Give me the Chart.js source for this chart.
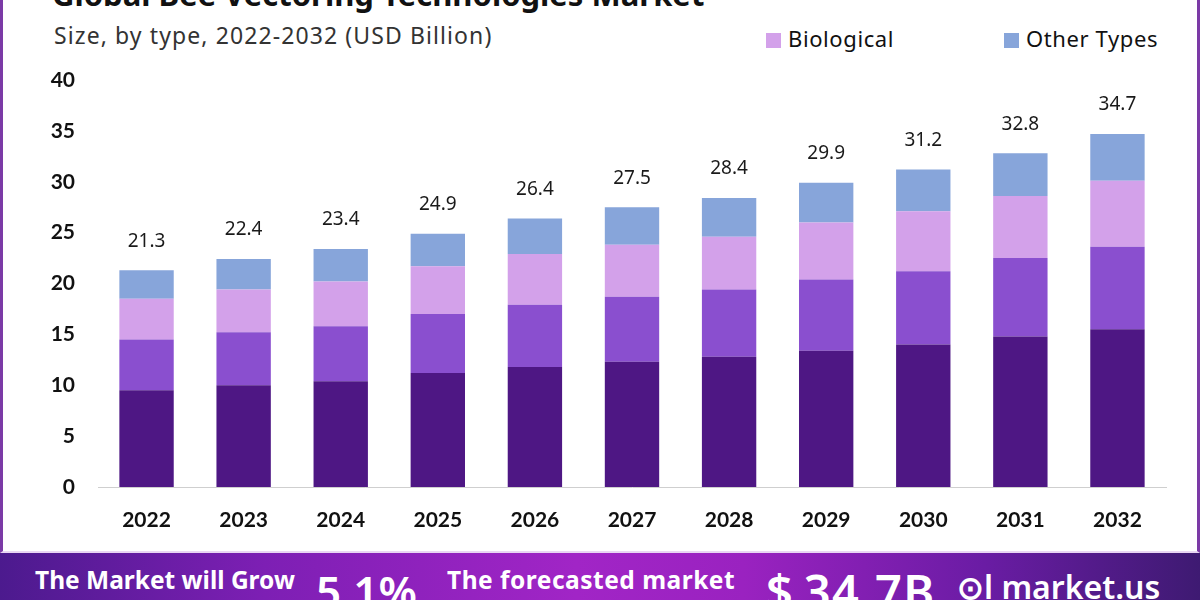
<!DOCTYPE html>
<html>
<head>
<meta charset="utf-8">
<script src="https://cdn.jsdelivr.net/npm/chart.js@4.4.0/dist/chart.umd.min.js"></script>
<style>
  html, body { margin: 0; padding: 0; }
  body { width: 1200px; height: 600px; position: relative; overflow: hidden; background: #fff; font-family: "Noto Sans", "Open Sans", sans-serif; }
  #card { position: absolute; left: 0; top: 0; width: 1194px; height: 551px; border-left: 3px solid #7b3aa6; border-right: 3px solid #7b3aa6; border-bottom: 2px solid #e9d6f3; }
  #title { position: absolute; left: 52px; top: -27px; font: 700 31px "Noto Sans", sans-serif; color: #111; white-space: nowrap; }
  #subtitle { position: absolute; left: 54px; top: 19px; font: 400 23px "Noto Sans", sans-serif; letter-spacing: 1.1px; color: #333; white-space: nowrap; }
  .leg { position: absolute; top: 23px; font: 400 22px "Noto Sans", sans-serif; letter-spacing: 0.6px; color: #111; white-space: nowrap; }
  .leg i { display: inline-block; width: 15px; height: 15px; margin-right: 7px; vertical-align: -1px; }
  #chartBox { position: absolute; left: 0; top: 0; width: 1200px; height: 553px; }
  #banner { position: absolute; left: 0; top: 553px; width: 1200px; height: 47px;
    background: linear-gradient(90deg, #4c1a8e 0%, #7d1fb4 22%, #a125c6 48%, #9a22c0 62%, #6a1ca4 82%, #3e1a72 100%); color: #fff; }
  #banner span { position: absolute; white-space: nowrap; font-family: "Noto Sans", sans-serif; font-weight: 700; }
</style>
</head>
<body>
<div id="card"></div>
<div id="title">Global Bee Vectoring Technologies Market</div>
<div id="subtitle">Size, by type, 2022-2032 (USD Billion)</div>
<div class="leg" style="left:766px"><i style="background:#d3a1ea"></i>Biological</div>
<div class="leg" style="left:1004px"><i style="background:#87a5da"></i>Other Types</div>
<div id="chartBox"><canvas id="chart" width="1200" height="553"></canvas></div>
<div id="banner">
  <span style="left:35px; top:10px; font-size:24.5px;">The Market will Grow</span>
  <span style="left:316px; top:8px; font-size:44px; font-weight:600;">5.1%</span>
  <span style="left:447px; top:10px; font-size:24.5px; letter-spacing:0.5px;">The forecasted market</span>
  <span style="left:766px; top:6px; font-size:47px; font-weight:600; letter-spacing:1.5px;">$&#x2009;34.7B</span>
  <span style="left:957px; top:12px; font-size:32px; font-weight:600;">&#x2299;l market.us</span>
</div>

<script>
// chart values
const years = ["2022", "2023", "2024", "2025", "2026", "2027", "2028", "2029", "2030", "2031", "2032"];
const darkSeg   = [9.5, 10.0, 10.4, 11.2, 11.8, 12.3, 12.8, 13.4, 14.0, 14.8, 15.5];
const mediumSeg = [5.0, 5.2, 5.4, 5.8, 6.1, 6.4, 6.6, 7.0, 7.2, 7.7, 8.1];
const biological = [4.0, 4.2, 4.4, 4.7, 5.0, 5.1, 5.2, 5.6, 5.9, 6.1, 6.5];
const otherTypes = [2.8, 3.0, 3.2, 3.2, 3.5, 3.7, 3.8, 3.9, 4.1, 4.2, 4.6];
const totals = ["21.3", "22.4", "23.4", "24.9", "26.4", "27.5", "28.4", "29.9", "31.2", "32.8", "34.7"];
const yTicks = [0, 5, 10, 15, 20, 25, 30, 35, 40];

// total labels above each stacked bar
const totalLabels = {
  id: "totalLabels",
  afterDatasetsDraw(chart) {
    const ctx = chart.ctx;
    const meta = chart.getDatasetMeta(chart.data.datasets.length - 1);
    ctx.save();
    ctx.fillStyle = "#1a1a1a";
    ctx.font = "400 19px 'Noto Sans', sans-serif";
    ctx.textAlign = "center";
    ctx.textBaseline = "middle";
    meta.data.forEach((bar, i) => {
      ctx.fillText(totals[i], bar.x, bar.y - 29);
    });
    ctx.restore();
  }
};

const ctx = document.getElementById("chart").getContext("2d");
new Chart(ctx, {
  type: "bar",
  data: {
    labels: years,
    datasets: [
      { label: "Segment 1", data: darkSeg, backgroundColor: "#4e1784" },
      { label: "Segment 2", data: mediumSeg, backgroundColor: "#8a4fcf" },
      { label: "Biological", data: biological, backgroundColor: "#d3a1ea" },
      { label: "Other Types", data: otherTypes, backgroundColor: "#87a5da" }
    ]
  },
  options: {
    responsive: false,
    animation: false,
    layout: { padding: { top: 80, right: 34, left: 0, bottom: 0 } },
    datasets: { bar: { categoryPercentage: 1, barPercentage: 0.56, borderWidth: 0 } },
    plugins: { legend: { display: false }, tooltip: { enabled: false } },
    scales: {
      x: {
        stacked: true,
        grid: { display: false, drawTicks: false },
        border: { display: true, color: "#cfcfcf", width: 1 },
        ticks: { color: "#111", font: { family: "Lato", weight: "bold", size: 21 }, padding: 21 },
        afterFit: s => { s.height = 66; }
      },
      y: {
        stacked: true,
        min: 0, max: 40,
        afterBuildTicks: s => { s.ticks = yTicks.map(v => ({ value: v })); },
        grid: { display: false, drawTicks: false },
        border: { display: false },
        ticks: { color: "#111", font: { family: "Lato", weight: "bold", size: 21 }, padding: 23 },
        afterFit: s => { s.width = 98; }
      }
    }
  },
  plugins: [totalLabels]
});
</script>
</body>
</html>
